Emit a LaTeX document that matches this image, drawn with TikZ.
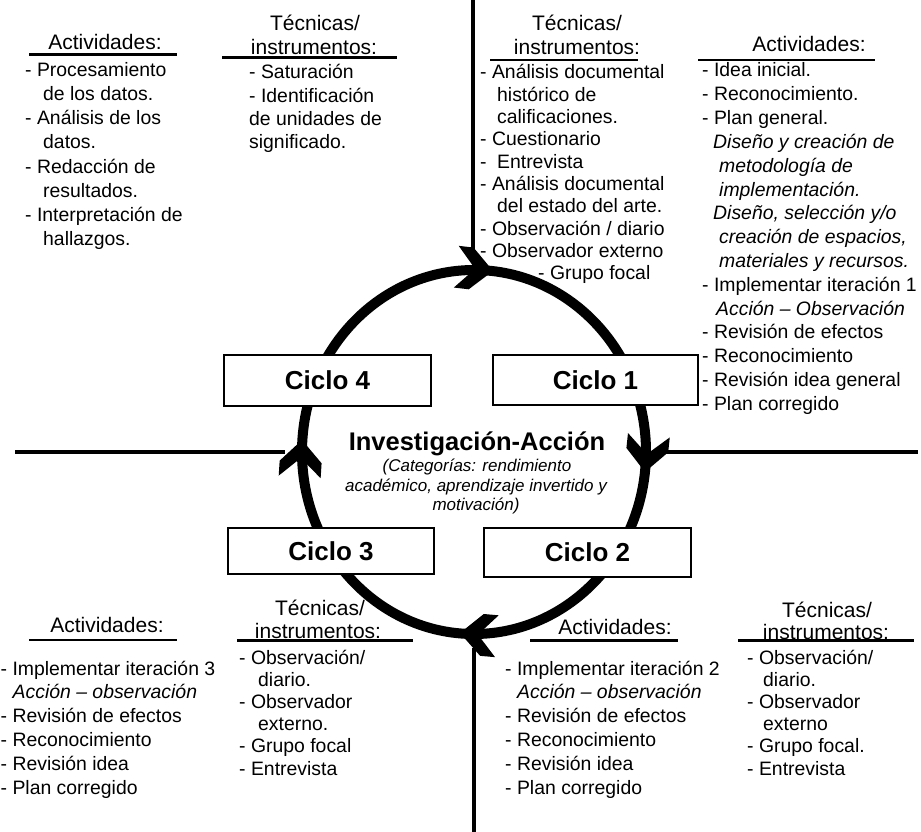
\documentclass[tikz,border=0pt]{standalone}
\usepackage{fontspec}
\setmainfont{Liberation Sans}
\begin{document}
\begin{tikzpicture}[x=1pt,y=-1pt,
  txt/.style={anchor=base west, inner sep=0pt, font=\fontsize{19.4}{23}\selectfont},
  hdr/.style={anchor=base, inner sep=0pt, font=\fontsize{21}{25}\selectfont},
  rulebar/.style={line width=2.6pt},
  axisline/.style={line width=3.3pt},
  cyclebox/.style={draw, line width=1.3pt, fill=white, inner sep=0pt,
                   font=\fontsize{26}{30}\selectfont\bfseries},
  cyclepath/.style={line width=10pt},
  chev/.pic={\fill (0,0) -- (-22,21) -- (-37,21) -- (-18,0) -- (-37,-21) -- (-22,-21) -- cycle;}
]
\useasboundingbox (0,0) rectangle (921,832);

% ---------- axes ----------
\coordinate (vt1) at (473,0);   \coordinate (vt2) at (473,253);
\coordinate (vb1) at (474,648); \coordinate (vb2) at (474,832);
\coordinate (hl1) at (15,452);  \coordinate (hl2) at (285,452);
\coordinate (hr1) at (665,452); \coordinate (hr2) at (918,452);
\draw[axisline] (vt1) -- (vt2);
\draw[axisline] (vb1) -- (vb2);
\draw[axisline] (hl1) -- (hl2);
\draw[axisline] (hr1) -- (hr2);

% ---------- top left: Actividades ----------
\node[hdr] (hA) at (105,50) {Actividades:};
\coordinate (uA1) at (29,54.5); \coordinate (uA2) at (177,54.5);
\draw[rulebar] (uA1) -- (uA2);
\foreach \t/\d [count=\i from 0] in {
  {- Procesamiento}/0, {de los datos.}/18, {- Análisis de los}/0, {datos.}/18,
  {- Redacción de}/0, {resultados.}/18, {- Interpretación de}/0, {hallazgos.}/18}
  \node[txt] (A\i) at ({25+\d},{77+\i*24}) {\t};

% ---------- top middle: Técnicas ----------
\node[hdr] (hB1) at (315,31) {Técnicas/};
\node[hdr] (hB2) at (314,55) {instrumentos:};
\coordinate (uB1) at (222,57.5); \coordinate (uB2) at (397,57.5);
\draw[rulebar] (uB1) -- (uB2);
\foreach \t/\d [count=\i from 0] in {
  {- Saturación}/0, {- Identificación}/0, {de unidades de}/0, {significado.}/0}
  \node[txt] (B\i) at ({249+\d},{79+\i*23.3}) {\t};

% ---------- top right of axis: Técnicas ----------
\node[hdr] (hC1) at (577,31) {Técnicas/};
\node[hdr] (hC2) at (577,55) {instrumentos:};
\coordinate (uC1) at (490,60); \coordinate (uC2) at (638,60);
\draw[rulebar] (uC1) -- (uC2);
\foreach \t/\d [count=\i from 0] in {
  {- Análisis documental}/0, {histórico de}/17, {calificaciones.}/17,
  {- Cuestionario}/0, {-\hspace{10.5pt}Entrevista}/0,
  {- Análisis documental}/0, {del estado del arte.}/17,
  {- Observación / diario}/0, {- Observador externo}/0, {- Grupo focal}/58}
  \node[txt] (C\i) at ({480+\d},{79+\i*22.3}) {\t};

% ---------- top right: Actividades ----------
\node[hdr] (hD) at (809,52) {Actividades:};
\coordinate (uD1) at (698,60); \coordinate (uD2) at (875,60);
\draw[rulebar] (uD1) -- (uD2);
\foreach \t/\d [count=\i from 0] in {
  {- Idea inicial.}/0, {- Reconocimiento.}/0, {- Plan general.}/0,
  {\textit{Diseño y creación de}}/11, {\textit{metodología de}}/17,
  {\textit{implementación.}}/17, {\textit{Diseño, selección y/o}}/11,
  {\textit{creación de espacios,}}/17, {\textit{materiales y recursos.}}/17,
  {- Implementar iteración 1}/0, {\textit{Acción – Observación}}/14,
  {- Revisión de efectos}/0, {- Reconocimiento}/0,
  {- Revisión idea general}/0, {- Plan corregido}/0}
  \node[txt] (D\i) at ({702+\d},{77+\i*23.8}) {\t};

% ---------- bottom left: Actividades ----------
\node[hdr] (hE) at (107,632) {Actividades:};
\coordinate (uE1) at (29,640); \coordinate (uE2) at (177,640);
\draw[rulebar] (uE1) -- (uE2);
\foreach \t/\d [count=\i from 0] in {
  {- Implementar iteración 3}/0, {\textit{Acción – observación}}/12,
  {- Revisión de efectos}/0, {- Reconocimiento}/0,
  {- Revisión idea}/0, {- Plan corregido}/0}
  \node[txt] (E\i) at ({0.5+\d},{675+\i*23.8}) {\t};

% ---------- bottom middle: Técnicas ----------
\node[hdr] (hF1) at (320,615) {Técnicas/};
\node[hdr] (hF2) at (318,638.5) {instrumentos:};
\coordinate (uF1) at (237,640.5); \coordinate (uF2) at (413,640.5);
\draw[rulebar] (uF1) -- (uF2);
\foreach \t/\d [count=\i from 0] in {
  {- Observación/}/0, {diario.}/19, {- Observador}/0, {externo.}/19,
  {- Grupo focal}/0, {- Entrevista}/0}
  \node[txt] (F\i) at ({239+\d},{664+\i*22.2}) {\t};

% ---------- bottom right of axis: Actividades ----------
\node[hdr] (hG) at (615,634) {Actividades:};
\coordinate (uG1) at (530,640.5); \coordinate (uG2) at (678,640.5);
\draw[rulebar] (uG1) -- (uG2);
\foreach \t/\d [count=\i from 0] in {
  {- Implementar iteración 2}/0, {\textit{Acción – observación}}/12,
  {- Revisión de efectos}/0, {- Reconocimiento}/0,
  {- Revisión idea}/0, {- Plan corregido}/0}
  \node[txt] (G\i) at ({505+\d},{675+\i*23.8}) {\t};

% ---------- bottom right: Técnicas ----------
\node[hdr] (hH1) at (827,617) {Técnicas/};
\node[hdr] (hH2) at (826,639) {instrumentos:};
\coordinate (uH1) at (738,640.5); \coordinate (uH2) at (914,640.5);
\draw[rulebar] (uH1) -- (uH2);
\foreach \t/\d [count=\i from 0] in {
  {- Observación/}/0, {diario.}/16, {- Observador}/0, {externo}/16,
  {- Grupo focal.}/0, {- Entrevista}/0}
  \node[txt] (H\i) at ({747+\d},{664+\i*22.2}) {\t};

% ---------- the research cycle ----------
\coordinate (ctr) at (474,452);
\draw[cyclepath] (ctr) ellipse [x radius=172pt, y radius=182pt];
\pic[rotate=-6.7] at (493,271) {chev};
\pic[rotate=-96]  at (645,472) {chev};
\pic[rotate=175]  at (460,633) {chev};
\pic[rotate=86.4] at (302,440) {chev};

\node[cyclebox, minimum width=207pt, minimum height=51pt] (c4) at (327.5,380.5) {Ciclo 4};
\node[cyclebox, minimum width=205pt, minimum height=50pt] (c1) at (595.5,380) {Ciclo 1};
\node[cyclebox, minimum width=206pt, minimum height=46pt] (c3) at (331,551) {Ciclo 3};
\node[cyclebox, minimum width=207pt, minimum height=49pt] (c2) at (587.5,552.5) {Ciclo 2};

% ---------- centre ----------
\node[anchor=base, inner sep=0pt, font=\fontsize{25.5}{30}\selectfont\bfseries] (ia) at (477,450) {Investigación-Acción};
\node[anchor=base, inner sep=0pt, font=\fontsize{17}{20}\selectfont\itshape] (cat1) at (477,471) {(Categorías: rendimiento};
\node[anchor=base, inner sep=0pt, font=\fontsize{17}{20}\selectfont\itshape] (cat2) at (476,491) {académico, aprendizaje invertido y};
\node[anchor=base, inner sep=0pt, font=\fontsize{17}{20}\selectfont\itshape] (cat3) at (476,510) {motivación)};
\end{tikzpicture}
\end{document}
